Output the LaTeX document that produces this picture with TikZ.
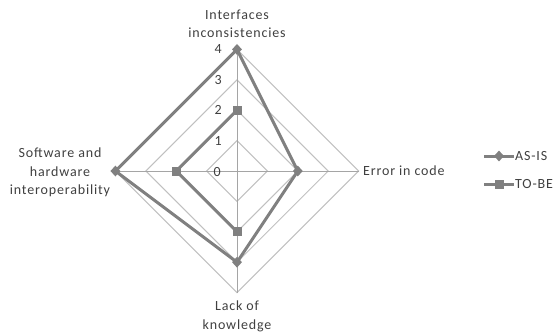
\documentclass[tikz,border=0pt]{standalone}
\usepackage{fontspec}
\setmainfont[LetterSpace=6]{Carlito}
\usetikzlibrary{shapes.geometric}
\definecolor{sercol}{RGB}{128,128,128}
\definecolor{gridcol}{RGB}{192,192,192}
\definecolor{axiscol}{RGB}{165,165,165}
\definecolor{txtcol}{RGB}{64,64,64}
\tikzset{
  gridline/.style={draw=gridcol, line width=1pt},
  axisline/.style={draw=axiscol, line width=1pt},
  serline/.style={draw=sercol, line width=3pt, line join=round},
  dmark/.style={diamond, fill=sercol, inner sep=0pt, minimum width=10pt, minimum height=11pt},
  smark/.style={rectangle, fill=sercol, inner sep=0pt, minimum size=9pt},
  lbl/.style={text=txtcol, align=center, inner sep=0pt},
  vlbl/.style={text=txtcol, inner sep=0pt, anchor=east}
}
\begin{document}
\begin{tikzpicture}[x=1pt,y=-1pt, font=\fontsize{14}{18.5}\selectfont]
\useasboundingbox (0,0) rectangle (557,335);
\def\u{30.4}
\coordinate (c) at (237,171);
% grid diamonds
\foreach \v in {1,2,3,4}{
  \draw[gridline] (237,171-\v*\u) -- (237+\v*\u,171) -- (237,171+\v*\u) -- (237-\v*\u,171) -- cycle;
}
% axes
\coordinate (t4) at (237,171-4*\u);
\coordinate (r4) at (237+4*\u,171);
\coordinate (b4) at (237,171+4*\u);
\coordinate (l4) at (237-4*\u,171);
\draw[axisline] (c) -- (t4);
\draw[axisline] (c) -- (r4);
\draw[axisline] (c) -- (b4);
\draw[axisline] (c) -- (l4);
% value labels
\node[vlbl] (v0) at (221,172) {0};
\node[vlbl] (v1) at (222,171-1*\u) {1};
\node[vlbl] (v2) at (222,171-2*\u) {2};
\node[vlbl] (v3) at (222,171-3*\u) {3};
\node[vlbl] (v4) at (222,171-4*\u) {4};
% AS-IS series
\coordinate (a1) at (237,171-4*\u);
\coordinate (a2) at (237+2*\u,171);
\coordinate (a3) at (237,171+3*\u);
\coordinate (a4) at (237-4*\u,171);
\draw[serline] (a1) -- (a2) -- (a3) -- (a4) -- cycle;
\foreach \p in {a1,a2,a3,a4}{ \node[dmark] at (\p) {}; }
% TO-BE series
\coordinate (s1) at (237,171-2*\u);
\coordinate (s3) at (237,171+2*\u);
\coordinate (s4) at (237-2*\u,171);
\draw[serline] (s3) -- (s4) -- (s1);
\foreach \p in {s1,s3,s4}{ \node[smark] at (\p) {}; }
% axis labels
\node[lbl] (lt) at (237,24) {Interfaces\\inconsistencies};
\node[lbl, anchor=west] (lr) at (363,171) {Error in code};
\node[lbl] (lb) at (237,316.5) {Lack of\\knowledge};
\node[lbl] (ll) at (60,172.5) {Software and\\hardware\\interoperability};
% legend
\coordinate (la0) at (484,156);
\coordinate (la1) at (514,156);
\draw[serline] (la0) -- (la1);
\node[dmark] (lam) at (499,156) {};
\node[lbl, anchor=west] (lat) at (515,156) {AS-IS};
\coordinate (lb0) at (484,184);
\coordinate (lb1) at (514,184);
\draw[serline] (lb0) -- (lb1);
\node[smark] (lbm) at (499,184) {};
\node[lbl, anchor=west] (lbt) at (515,184) {TO-BE};
\end{tikzpicture}
\end{document}
